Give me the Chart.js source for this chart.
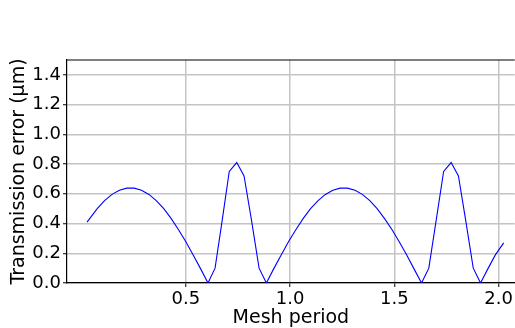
<!DOCTYPE html>
<html>
<head>
<meta charset="utf-8">
<script src="https://cdn.jsdelivr.net/npm/chart.js@4"></script>
<style>
  html, body { margin: 0; padding: 0; background: #fff; overflow: hidden; }
  #wrap { width: 515px; height: 328px; }
</style>
</head>
<body>
<div id="wrap"><canvas id="myChart" width="515" height="328"></canvas></div>
<script>
// values
var meshPeriod = [0.026, 0.075, 0.110, 0.146, 0.181, 0.217, 0.252, 0.287, 0.323, 0.358,
  0.394, 0.429, 0.464, 0.500, 0.535, 0.571, 0.606, 0.640, 0.674, 0.708,
  0.744, 0.779, 0.815, 0.851, 0.886, 0.921, 0.957, 0.992, 1.028, 1.063,
  1.098, 1.134, 1.169, 1.205, 1.240, 1.275, 1.311, 1.346, 1.382, 1.417,
  1.452, 1.488, 1.523, 1.559, 1.594, 1.630, 1.665, 1.700, 1.736, 1.772,
  1.807, 1.842, 1.878, 1.913, 1.948, 1.984, 2.024]
var transmissionError = [0.41, 0.500, 0.554, 0.596, 0.624, 0.638, 0.638, 0.624, 0.596, 0.554,
  0.500, 0.435, 0.360, 0.278, 0.189, 0.095, 0.0, 0.10, 0.42, 0.75,
  0.81, 0.72, 0.42, 0.10, 0.0, 0.095, 0.189, 0.278, 0.360, 0.435,
  0.500, 0.554, 0.596, 0.624, 0.638, 0.638, 0.624, 0.596, 0.554, 0.500,
  0.435, 0.360, 0.278, 0.189, 0.095, 0.0, 0.10, 0.42, 0.75, 0.81,
  0.72, 0.42, 0.10, 0.0, 0.095, 0.189, 0.27]
var xTicks = [0.5, 1.0, 1.5, 2.0]
var yTicks = [0.0, 0.2, 0.4, 0.6, 0.8, 1.0, 1.2, 1.4]

var points = meshPeriod.map((x, i) => ({ x: x, y: transmissionError[i] }))

const tickFont = { family: 'DejaVu Sans', size: 18 }
const titleFont = { family: 'DejaVu Sans', size: 19 }

// top spine (matplotlib style box, right side is cut off by the figure edge)
const topSpine = {
  id: 'topSpine',
  afterDraw(chart) {
    const a = chart.chartArea, c = chart.ctx
    c.save()
    c.strokeStyle = '#000'
    c.lineWidth = 1.2
    c.beginPath()
    c.moveTo(a.left, a.top)
    c.lineTo(a.right, a.top)
    c.stroke()
    c.restore()
  }
}

const ctx = document.getElementById('myChart').getContext('2d');

const chart = new Chart(ctx, {
  type: 'line',
  data: {
    datasets: [{
      data: points,
      borderColor: 'blue',
      borderWidth: 1.1,
      pointRadius: 0,
      tension: 0,
      fill: false
    }]
  },
  options: {
    responsive: false,
    animation: false,
    layout: { padding: { top: 60, right: 0, left: 0, bottom: 0 } },
    plugins: { legend: { display: false }, tooltip: { enabled: false } },
    scales: {
      x: {
        type: 'linear',
        min: -0.07,
        max: 2.077,
        afterBuildTicks: (s) => { s.ticks = xTicks.map(v => ({ value: v })) },
        afterFit: (s) => { s.height = 45 },
        ticks: {
          font: tickFont,
          color: '#000',
          padding: 2,
          maxRotation: 0,
          callback: (v) => Number(v).toFixed(1)
        },
        grid: { color: '#c4c4c4', lineWidth: 1.5, tickColor: '#000', tickLength: 4, tickWidth: 1 },
        border: { display: true, color: '#000', width: 1.2 },
        title: { display: true, text: 'Mesh period', font: titleFont, color: '#000', padding: { top: 0, bottom: -1 } }
      },
      y: {
        min: 0,
        max: 1.5,
        afterBuildTicks: (s) => { s.ticks = yTicks.map(v => ({ value: v })) },
        afterFit: (s) => { s.width = 67 },
        ticks: {
          font: tickFont,
          color: '#000',
          padding: 2,
          callback: (v) => Number(v).toFixed(1)
        },
        grid: { color: '#c4c4c4', lineWidth: 1.5, tickColor: '#000', tickLength: 4, tickWidth: 1 },
        border: { display: true, color: '#000', width: 1.2 },
        title: { display: true, text: 'Transmission error (μm)', font: titleFont, color: '#000', padding: { top: 8, bottom: 0 } }
      }
    }
  },
  plugins: [topSpine]
})
</script>
</body>
</html>
